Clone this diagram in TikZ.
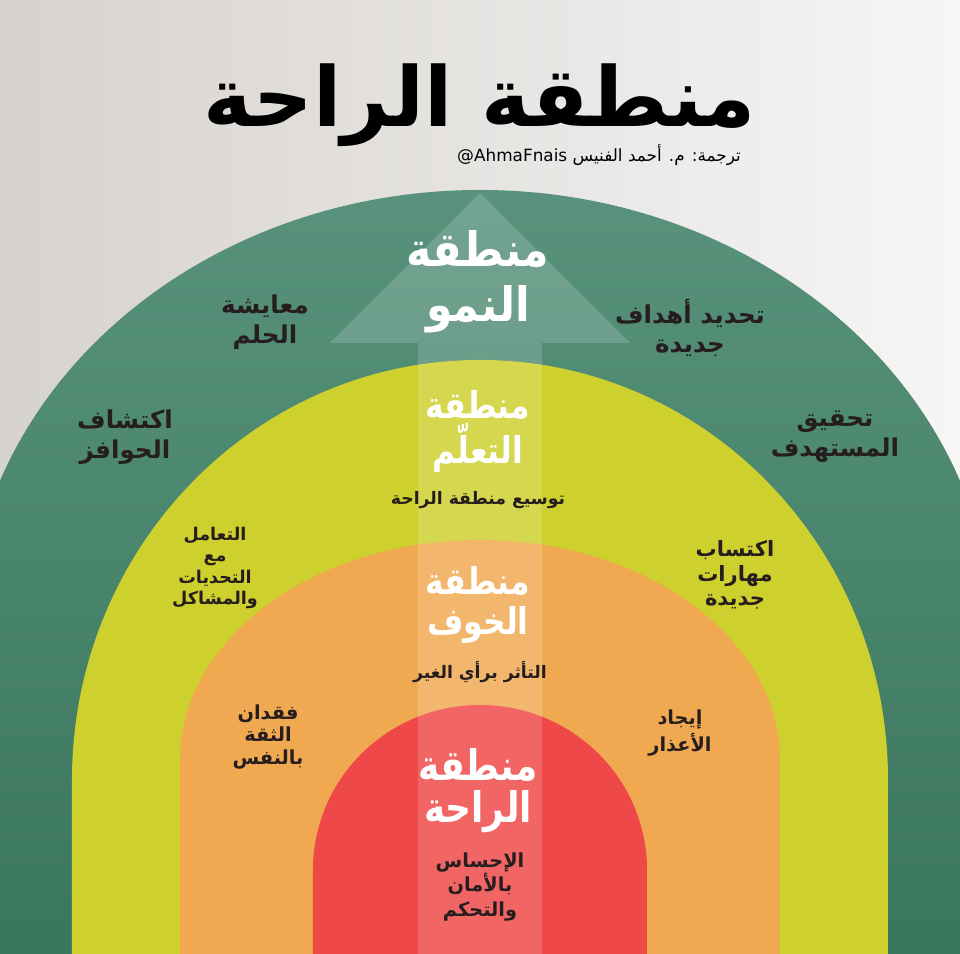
\documentclass[tikz,border=0pt]{standalone}
\usepackage{fontspec}
\newfontfamily\arabicfont[Script=Arabic]{DejaVu Sans}
\TeXXeTstate=1
\newcommand\artxt[1]{\beginR#1\endR}
\definecolor{bgleft}{RGB}{214,210,206}
\definecolor{bgright}{RGB}{246,246,245}
\definecolor{growthtop}{RGB}{88,146,124}
\definecolor{growthbot}{RGB}{58,118,92}
\definecolor{learnyellow}{RGB}{206,208,46}
\definecolor{fearorange}{RGB}{240,169,80}
\definecolor{comfortred}{RGB}{239,72,72}
\definecolor{inkdark}{RGB}{38,30,30}

\begin{document}
\begin{tikzpicture}[x=1cm,y=1cm,every node/.style={inner sep=1pt,align=center},
  zonetitle/.style={text=white,xscale=0.85,font=\arabicfont\bfseries\fontsize{10.5}{12}\selectfont},
  zonenote/.style={text=inkdark,font=\arabicfont\bfseries\fontsize{5.5}{7}\selectfont},
  sidenote/.style={text=inkdark,font=\arabicfont\bfseries\fontsize{7}{8.5}\selectfont}]
\useasboundingbox (0,0) rectangle (9.60,9.54);
\clip (0,0) rectangle (9.60,9.54);
\shade[left color=bgleft,right color=bgright] (0,0) rectangle (9.60,9.54);
\shade[top color=growthtop,bottom color=growthbot] (-0.33,0) -- (-0.33,3.14) arc[start angle=180,end angle=0,x radius=5.13,y radius=4.50] -- (9.93,0) -- cycle;
\fill[learnyellow] (0.72,0) -- (0.72,1.74) arc[start angle=180,end angle=0,x radius=4.08,y radius=4.20] -- (8.88,0) -- cycle;
\fill[fearorange] (1.80,0) -- (1.80,1.94) arc[start angle=180,end angle=0,x radius=3.00,y radius=2.20] -- (7.80,0) -- cycle;
\fill[comfortred] (3.13,0) -- (3.13,0.84) arc[start angle=180,end angle=0,x radius=1.67,y radius=1.65] -- (6.47,0) -- cycle;
\fill[white,opacity=0.16] (4.18,0) -- (4.18,6.11) -- (3.30,6.11) -- (4.80,7.61) -- (6.30,6.11) -- (5.42,6.11) -- (5.42,0) -- cycle;
\node[font=\arabicfont\bfseries\fontsize{23.5}{28}\selectfont] (title) at (4.80,8.49) {\artxt{منطقة الراحة}};
\node[anchor=east,font=\arabicfont\fontsize{4.8}{6}\selectfont] (credit) at (7.45,7.99) {\artxt{ترجمة: م. أحمد الفنيس \beginL@AhmaFnais\endL}};
\node[zonetitle,xscale=1.06,font=\arabicfont\bfseries\fontsize{13.5}{15.6}\selectfont] (growth) at (4.78,6.72) {\artxt{منطقة}\\\artxt{النمو}};
\node[zonetitle,font=\arabicfont\bfseries\fontsize{10.5}{12.8}\selectfont] (learning) at (4.78,5.22) {\artxt{منطقة}\\\artxt{التعلّم}};
\node[zonenote,font=\arabicfont\bfseries\fontsize{4.9}{6}\selectfont] (expand) at (4.78,4.54) {\artxt{توسيع منطقة الراحة}};
\node[zonetitle,font=\arabicfont\bfseries\fontsize{10.5}{11.3}\selectfont] (fear) at (4.78,3.49) {\artxt{منطقة}\\\artxt{الخوف}};
\node[zonenote,font=\arabicfont\bfseries\fontsize{4.9}{6}\selectfont] (others) at (4.80,2.82) {\artxt{التأثر برأي الغير}};
\node[zonetitle,font=\arabicfont\bfseries\fontsize{12}{11.9}\selectfont] (comfort) at (4.78,1.63) {\artxt{منطقة}\\\artxt{الراحة}};
\node[zonenote] (safety) at (4.80,0.67) {\artxt{الإحساس}\\\artxt{بالأمان}\\\artxt{والتحكم}};
\node[sidenote] (dream) at (2.65,6.32) {\artxt{معايشة}\\\artxt{الحلم}};
\node[sidenote] (goals) at (6.90,6.26) {\artxt{تحديد أهداف}\\\artxt{جديدة}};
\node[sidenote] (motives) at (1.25,5.17) {\artxt{اكتشاف}\\\artxt{الحوافز}};
\node[sidenote] (target) at (8.35,5.17) {\artxt{تحقيق}\\\artxt{المستهدف}};
\node[zonenote,font=\arabicfont\bfseries\fontsize{5}{6}\selectfont] (challenges) at (2.15,3.86) {\artxt{التعامل}\\\artxt{مع}\\\artxt{التحديات}\\\artxt{والمشاكل}};
\node[zonenote,font=\arabicfont\bfseries\fontsize{6}{7}\selectfont] (skills) at (7.35,3.79) {\artxt{اكتساب}\\\artxt{مهارات}\\\artxt{جديدة}};
\node[zonenote,font=\arabicfont\bfseries\fontsize{5.5}{6.3}\selectfont] (confidence) at (2.68,2.17) {\artxt{فقدان}\\\artxt{الثقة}\\\artxt{بالنفس}};
\node[zonenote,font=\arabicfont\bfseries\fontsize{5.5}{6.5}\selectfont] (excuses) at (6.80,2.21) {\artxt{إيجاد}\\\artxt{الأعذار}};
\end{tikzpicture}
\end{document}
